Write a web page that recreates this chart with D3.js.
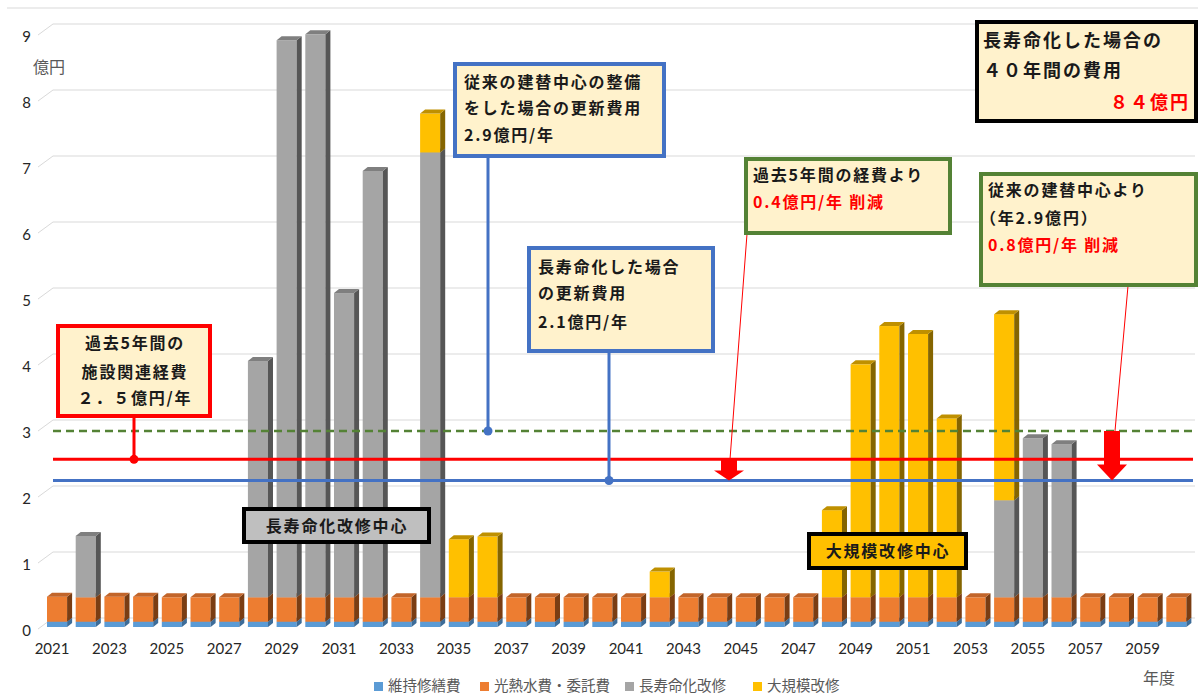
<!DOCTYPE html>
<html lang="ja">
<head>
<meta charset="UTF-8">
<title>長寿命化改修 費用推計</title>
<script src="https://d3js.org/d3.v7.min.js"></script>
<style>
    body { margin: 0; background: #fff; }
    svg { display: block; font-family: "Noto Sans CJK JP", sans-serif; }
    .tick-label { font-family: Lato, "Noto Sans", sans-serif; font-size: 15px; fill: #262626; }
    .note { font-weight: 700; font-size: 16px; letter-spacing: 1.8px; fill: #1a1a1a; }
    .red { fill: #ff0000; }
    .legend-text { font-size: 14.5px; fill: #595959; }
</style>
</head>
<body>
<svg id="chart" width="1198" height="695"></svg>
<script>
// 年度
const years = [2021, 2022, 2023, 2024, 2025, 2026, 2027, 2028, 2029, 2030,
               2031, 2032, 2033, 2034, 2035, 2036, 2037, 2038, 2039, 2040,
               2041, 2042, 2043, 2044, 2045, 2046, 2047, 2048, 2049, 2050,
               2051, 2052, 2053, 2054, 2055, 2056, 2057, 2058, 2059, 2060];

// 億円
const maintenance = [0.08, 0.08, 0.08, 0.08, 0.08, 0.08, 0.08, 0.08, 0.08, 0.08,
                     0.08, 0.08, 0.08, 0.08, 0.08, 0.08, 0.08, 0.08, 0.08, 0.08,
                     0.08, 0.08, 0.08, 0.08, 0.08, 0.08, 0.08, 0.08, 0.08, 0.08,
                     0.08, 0.08, 0.08, 0.08, 0.08, 0.08, 0.08, 0.08, 0.08, 0.08];
const utilities = [0.38, 0.37, 0.38, 0.38, 0.37, 0.37, 0.37, 0.37, 0.37, 0.37,
                   0.37, 0.37, 0.37, 0.37, 0.37, 0.37, 0.37, 0.37, 0.37, 0.37,
                   0.37, 0.37, 0.37, 0.37, 0.37, 0.37, 0.37, 0.37, 0.37, 0.37,
                   0.37, 0.37, 0.37, 0.37, 0.37, 0.37, 0.37, 0.37, 0.37, 0.37];
const longLife = [0, 0.93, 0, 0, 0, 0, 0, 3.58, 8.44, 8.53,
                  4.61, 6.46, 0, 6.74, 0, 0, 0, 0, 0, 0,
                  0, 0, 0, 0, 0, 0, 0, 0, 0, 0,
                  0, 0, 0, 1.47, 2.41, 2.32, 0, 0, 0, 0];
const majorRepair = [0, 0, 0, 0, 0, 0, 0, 0, 0, 0,
                     0, 0, 0, 0.59, 0.88, 0.92, 0, 0, 0, 0,
                     0, 0.39, 0, 0, 0, 0, 0, 1.32, 3.53, 4.11,
                     3.99, 2.71, 0, 2.82, 0, 0, 0, 0, 0, 0];

const seriesNames = ["維持修繕費", "光熱水費・委託費", "長寿命化改修", "大規模改修"];
const yTicks = [0, 1, 2, 3, 4, 5, 6, 7, 8, 9];
const xTickYears = years.filter((d, i) => i % 2 === 0);

// 参考線: 従来の建替中心 / 過去5年間 / 長寿命化
const refValues = [2.97, 2.54, 2.22];

const frontColor = ["#5b9bd5", "#ed7d31", "#a5a5a5", "#ffc000"];
const sideColor = ["#3d6c98", "#7a3d13", "#565656", "#856500"];
const topColor = ["#4a84bb", "#c2652a", "#7f7f7f", "#bf9000"];

const rows = years.map((yr, i) => ({
    year: yr,
    s0: maintenance[i], s1: utilities[i], s2: longLife[i], s3: majorRepair[i]
}));

const svg = d3.select("#chart");

const x = d3.scaleBand()
    .domain(years)
    .range([42.7, 1190.7])
    .paddingInner(0.3)
    .paddingOuter(0.15);

const y = d3.scaleLinear()
    .domain([0, 9])
    .range([627, 33]);

const dx = 5, dy = 4;       // 3D depth of the bars
const wallX = 15, wallY = 11; // back wall offset

// top border line
svg.append("line")
    .attr("x1", 7).attr("x2", 1198).attr("y1", 8).attr("y2", 8)
    .attr("stroke", "#d9d9d9");

// gridlines on the back wall
const grid = svg.append("g");
yTicks.forEach(v => {
    grid.append("path")
        .attr("d", `M38,${y(v) + 2}L${38 + wallX},${y(v) + 2 - wallY}H1195`)
        .attr("fill", "none")
        .attr("stroke", "#d9d9d9")
        .attr("stroke-width", 1);
});

// y labels
svg.append("g").selectAll("text")
    .data(yTicks).join("text")
    .attr("class", "tick-label")
    .attr("x", 31)
    .attr("y", d => y(d) + 9)
    .attr("text-anchor", "end")
    .text(d => d);

svg.append("text")
    .attr("x", 33).attr("y", 73)
    .attr("font-size", 16).attr("fill", "#595959")
    .text("億円");

// x labels
svg.append("g").selectAll("text")
    .data(xTickYears).join("text")
    .attr("class", "tick-label")
    .attr("x", d => x(d) + x.bandwidth() / 2 - 5)
    .attr("y", 654)
    .attr("text-anchor", "middle")
    .text(d => d);

svg.append("text")
    .attr("x", 1143).attr("y", 684)
    .attr("font-size", 16).attr("fill", "#595959")
    .text("年度");

// stacked 3D bars
const stack = d3.stack().keys(["s0", "s1", "s2", "s3"]);
const layers = stack(rows);
const bw = x.bandwidth();

const bars = svg.append("g");
years.forEach((yr, i) => {
    const g = bars.append("g");
    layers.forEach((layer, k) => {
        const [v0, v1] = layer[i];
        if (v1 - v0 <= 0) return;
        const bx = x(yr), y0 = y(v0), y1 = y(v1);
        g.append("rect")
            .attr("x", bx).attr("y", y1)
            .attr("width", bw).attr("height", y0 - y1)
            .attr("fill", frontColor[k]);
        g.append("polygon")
            .attr("points", [[bx + bw, y0], [bx + bw + dx, y0 - dy], [bx + bw + dx, y1 - dy], [bx + bw, y1]].join(" "))
            .attr("fill", sideColor[k]);
        g.append("polygon")
            .attr("points", [[bx, y1], [bx + bw, y1], [bx + bw + dx, y1 - dy], [bx + dx, y1 - dy]].join(" "))
            .attr("fill", topColor[k]);
    });
});

// reference lines
const refStyle = [
    { color: "#548235", width: 2.5, dash: "8,5" },
    { color: "#ff0000", width: 3, dash: null },
    { color: "#4472c4", width: 3, dash: null }
];
refValues.forEach((v, k) => {
    svg.append("line")
        .attr("x1", 53).attr("x2", 1193)
        .attr("y1", y(v)).attr("y2", y(v))
        .attr("stroke", refStyle[k].color)
        .attr("stroke-width", refStyle[k].width)
        .attr("stroke-dasharray", refStyle[k].dash);
});

// helper for a text box
function noteBox(x0, y0, w, h, stroke, fill) {
    svg.append("rect")
        .attr("x", x0).attr("y", y0).attr("width", w).attr("height", h)
        .attr("fill", fill).attr("stroke", stroke).attr("stroke-width", 4);
}
function noteText(tx, ty, str, cls, anchor, size, spacing) {
    const t = svg.append("text")
        .attr("class", "note " + (cls || ""))
        .attr("x", tx).attr("y", ty)
        .attr("text-anchor", anchor || "start")
        .text(str);
    if (size) t.style("font-size", size + "px");
    if (spacing !== undefined) t.style("letter-spacing", spacing + "px");
    return t;
}
function connector(cx, yTop, v, color) {
    svg.append("line")
        .attr("x1", cx).attr("x2", cx).attr("y1", yTop).attr("y2", y(v))
        .attr("stroke", color).attr("stroke-width", 3);
    svg.append("circle")
        .attr("cx", cx).attr("cy", y(v)).attr("r", 4.5)
        .attr("fill", color);
}

// 従来の建替中心
connector(488, 158, refValues[0], "#4472c4");
noteBox(455, 64, 209, 92, "#4472c4", "#fff2cc");
noteText(464, 88, "従来の建替中心の整備");
noteText(464, 114, "をした場合の更新費用");
noteText(464, 141, "2.9億円/年");

// 長寿命化した場合
connector(609, 353, refValues[2], "#4472c4");
noteBox(529, 248, 184, 103, "#4472c4", "#fff2cc");
noteText(538, 273, "長寿命化した場合");
noteText(538, 299, "の更新費用");
noteText(538, 328, "2.1億円/年");

// 過去5年間
connector(134, 418, refValues[1], "#ff0000");
noteBox(58, 326, 152, 90, "#ff0000", "#fff2cc");
noteText(135, 349, "過去5年間の", null, "middle");
noteText(135, 378, "施設関連経費", null, "middle");
noteText(135, 404, "２．５億円/年", null, "middle");

// reduction arrows
function arrow(cx, vTop, vTip, headH) {
    const yt = y(vTop), yp = y(vTip);
    const sw = 8, hw = 15;
    svg.append("polygon")
        .attr("points", [[cx - sw, yt], [cx + sw, yt], [cx + sw, yp - headH], [cx + hw, yp - headH],
                         [cx, yp], [cx - hw, yp - headH], [cx - sw, yp - headH]].join(" "))
        .attr("fill", "#ff0000");
}
arrow(729, refValues[1], refValues[2], 10);
arrow(1112, refValues[0], refValues[2], 16);

svg.append("line")
    .attr("x1", 747).attr("y1", 234).attr("x2", 730).attr("y2", y(refValues[1]))
    .attr("stroke", "#ff0000").attr("stroke-width", 1);
svg.append("line")
    .attr("x1", 1128).attr("y1", 286).attr("x2", 1115).attr("y2", y(refValues[0]))
    .attr("stroke", "#ff0000").attr("stroke-width", 1);

// 過去5年間の経費より
noteBox(746, 159, 204, 74, "#548235", "#fff2cc");
noteText(753, 181, "過去5年間の経費より");
noteText(753, 208, "0.4億円/年 削減", "red");

// 従来の建替中心より
noteBox(981, 174, 215, 111, "#548235", "#fff2cc");
noteText(988, 196, "従来の建替中心より");
noteText(980, 224, "（年2.9億円）");
noteText(988, 251, "0.8億円/年 削減", "red");

// 40年間の費用
noteBox(977, 22, 219, 99, "#000000", "#fff2cc");
noteText(983, 47, "長寿命化した場合の", null, "start", 18, 2);
noteText(983, 77, "４０年間の費用", null, "start", 18, 2);
noteText(1190, 109, "８４億円", "red", "end", 18, 2);

// phase labels
noteBox(244, 509, 185, 33, "#000000", "#bfbfbf");
noteText(337, 532, "長寿命化改修中心", null, "middle");
noteBox(809, 534, 157, 34, "#000000", "#ffc000");
noteText(888, 557, "大規模改修中心", null, "middle");

// legend
const legendX = [374, 480, 625, 753];
const legend = svg.append("g");
seriesNames.forEach((name, k) => {
    legend.append("rect")
        .attr("x", legendX[k]).attr("y", 682)
        .attr("width", 9).attr("height", 9)
        .attr("fill", frontColor[k]);
    legend.append("text")
        .attr("class", "legend-text")
        .attr("x", legendX[k] + 14).attr("y", 691)
        .text(name);
});
</script>
</body>
</html>
